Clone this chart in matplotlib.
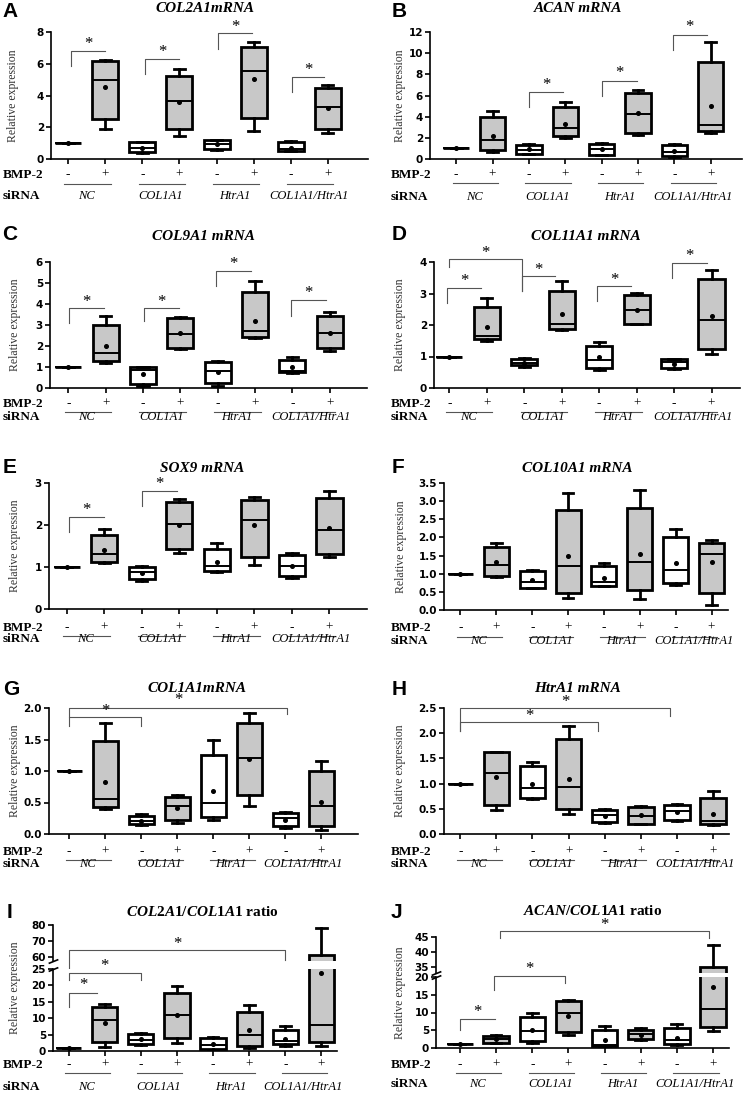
import numpy as np
import matplotlib
matplotlib.use('Agg')
import matplotlib.pyplot as plt
import matplotlib.transforms as mtransforms

W, H = 746, 1093

plt.rcParams['mathtext.fontset'] = 'custom'
plt.rcParams['mathtext.it'] = 'Liberation Serif:italic:bold'
plt.rcParams['mathtext.rm'] = 'Liberation Serif:bold'

groups = ['NC', 'COL1A1', 'HtrA1', 'COL1A1/HtrA1']
bmp = ['-', '+'] * 4
positions = np.arange(8)

# box stats: lower whisker, q1, median, q3, upper whisker, mean
col2a1 = dict(lo=[1, 1.9, 0.4, 1.47, 0.55, 1.79, 0.48, 1.64],
              q1=[1, 2.5, 0.42, 1.9, 0.65, 2.58, 0.52, 1.9],
              med=[1, 5.0, 0.69, 3.63, 0.95, 5.52, 0.6, 3.28],
              q3=[1, 6.15, 1.05, 5.25, 1.18, 7.04, 1.05, 4.47],
              hi=[1, 6.26, 1.1, 5.7, 1.2, 7.37, 1.15, 4.68],
              mean=[1, 4.54, 0.72, 3.6, 0.94, 5.04, 0.7, 3.2])
acan = dict(lo=[1, 0.63, 0.45, 2.0, 0.35, 2.3, 0.2, 2.5],
            q1=[1, 0.82, 0.5, 2.14, 0.41, 2.46, 0.25, 2.6],
            med=[1, 1.76, 0.82, 2.93, 0.95, 4.25, 0.63, 3.18],
            q3=[1, 3.94, 1.35, 4.91, 1.45, 6.24, 1.35, 9.17],
            hi=[1, 4.57, 1.45, 5.42, 1.5, 6.49, 1.4, 11.02],
            mean=[1, 2.2, 0.98, 3.34, 0.94, 4.3, 0.72, 4.98])
col9a1 = dict(lo=[1, 1.2, 0.08, 1.86, 0.1, 2.38, 0.7, 1.78],
              q1=[1, 1.3, 0.2, 1.9, 0.24, 2.42, 0.74, 1.9],
              med=[1, 1.66, 0.88, 2.58, 0.82, 2.7, 0.8, 2.6],
              q3=[1, 2.98, 1.0, 3.32, 1.22, 4.58, 1.34, 3.44],
              hi=[1, 3.43, 1.0, 3.4, 1.3, 5.1, 1.5, 3.6],
              mean=[1, 1.98, 0.68, 2.6, 0.76, 3.2, 0.98, 2.64])
col11a1 = dict(lo=[1, 1.5, 0.68, 1.84, 0.57, 2.03, 0.6, 1.07],
               q1=[1, 1.56, 0.72, 1.86, 0.63, 2.03, 0.63, 1.23],
               med=[1, 1.66, 0.8, 2.03, 0.89, 2.47, 0.82, 2.16],
               q3=[1, 2.58, 0.92, 3.08, 1.32, 2.95, 0.92, 3.47],
               hi=[1, 2.87, 0.95, 3.39, 1.45, 3.02, 0.92, 3.76],
               mean=[1, 1.93, 0.8, 2.35, 0.97, 2.49, 0.77, 2.28])
sox9 = dict(lo=[1, 1.1, 0.66, 1.33, 0.88, 1.04, 0.74, 1.25],
            q1=[1, 1.13, 0.71, 1.44, 0.9, 1.25, 0.79, 1.31],
            med=[1, 1.31, 0.88, 2.03, 1.03, 2.13, 1.02, 1.87],
            q3=[1, 1.77, 1.0, 2.54, 1.44, 2.6, 1.28, 2.64],
            hi=[1, 1.91, 1.02, 2.62, 1.56, 2.67, 1.33, 2.82],
            mean=[1, 1.41, 0.86, 2.0, 1.13, 2.0, 1.03, 1.94])
col10a1 = dict(lo=[1, 0.9, 0.6, 0.32, 0.67, 0.3, 0.68, 0.14],
               q1=[1, 0.95, 0.62, 0.48, 0.67, 0.55, 0.74, 0.46],
               med=[1, 1.24, 0.78, 1.22, 0.78, 1.31, 1.1, 1.55],
               q3=[1, 1.73, 1.08, 2.76, 1.2, 2.81, 2.0, 1.84],
               hi=[1, 1.86, 1.1, 3.22, 1.29, 3.3, 2.23, 1.93],
               mean=[1, 1.31, 0.83, 1.49, 0.89, 1.55, 1.29, 1.31])
col1a1 = dict(lo=[1, 0.39, 0.15, 0.17, 0.23, 0.44, 0.09, 0.06],
              q1=[1, 0.43, 0.16, 0.22, 0.27, 0.62, 0.12, 0.12],
              med=[1, 0.56, 0.21, 0.44, 0.5, 1.21, 0.26, 0.44],
              q3=[1, 1.47, 0.29, 0.59, 1.25, 1.76, 0.34, 1.0],
              hi=[1, 1.76, 0.32, 0.62, 1.49, 1.92, 0.35, 1.16],
              mean=[1, 0.82, 0.21, 0.42, 0.68, 1.19, 0.23, 0.51])
htra1 = dict(lo=[1, 0.47, 0.7, 0.4, 0.22, 0.19, 0.25, 0.18],
             q1=[1, 0.57, 0.71, 0.49, 0.24, 0.2, 0.28, 0.2],
             med=[1, 1.22, 0.92, 0.94, 0.37, 0.35, 0.46, 0.25],
             q3=[1, 1.62, 1.35, 1.88, 0.47, 0.53, 0.57, 0.72],
             hi=[1, 1.63, 1.43, 2.14, 0.5, 0.56, 0.59, 0.85],
             mean=[1, 1.13, 0.99, 1.1, 0.36, 0.37, 0.43, 0.39])
col2_ratio = dict(lo=[1, 1.2, 1.9, 2.3, 0.4, 0.9, 1.6, 1.5],
                  q1=[1, 2.8, 2.0, 4.1, 0.5, 1.5, 2.0, 2.8],
                  med=[1, 9.4, 3.5, 10.9, 1.8, 4.8, 3.0, 7.9],
                  q3=[1, 13.5, 5.3, 17.6, 4.1, 12.0, 6.4, 61.0],
                  hi=[1, 14.3, 5.6, 19.9, 4.2, 14.0, 7.7, 78.0],
                  mean=[1, 8.6, 3.6, 11.0, 2.2, 6.3, 3.8, 23.8])
acan_ratio = dict(lo=[1, 1.4, 1.5, 3.8, 0.55, 2.2, 0.8, 4.7],
                  q1=[1, 1.5, 1.9, 4.5, 0.6, 2.4, 1.0, 6.0],
                  med=[1, 2.65, 4.7, 9.8, 0.75, 3.9, 2.2, 11.0],
                  q3=[1, 3.4, 8.8, 13.1, 5.2, 5.2, 5.7, 35.0],
                  hi=[1, 3.6, 9.95, 13.4, 6.25, 5.5, 6.7, 42.5],
                  mean=[1, 2.4, 5.0, 9.1, 2.2, 3.8, 2.9, 17.2])

# significance brackets: x0, x1, top, left leg bottom, right leg bottom (None = no leg), star y
br_a = [(0.08, 1.0, 6.83, 5.84, None, 7.25), (2.06, 3.0, 6.32, 5.38, None, 6.74),
        (4.05, 4.96, 7.94, 6.93, None, 8.3), (6.04, 6.9, 5.15, 4.2, None, 5.63)]
br_b = [(2.0, 2.94, 6.33, 4.91, None, 7.0), (4.02, 4.96, 7.4, 6.0, None, 8.1),
        (5.95, 6.9, 11.75, 10.33, None, 12.5)]
br_c = [(0.02, 0.96, 3.79, 3.11, None, 4.1), (2.02, 2.97, 3.79, 3.2, None, 4.1),
        (3.96, 4.88, 5.56, 4.85, None, 5.9), (5.97, 6.89, 4.18, 3.43, None, 4.5)]
br_d = [(-0.07, 0.85, 3.16, 2.7, None, 3.4), (0.0, 1.93, 4.08, 3.84, 3.08, 4.3),
        (1.93, 2.83, 3.55, 3.08, None, 3.76), (3.95, 4.84, 3.23, 2.76, None, 3.44),
        (5.95, 6.87, 3.98, 3.5, None, 4.18)]
br_e = [(0.06, 1.0, 2.18, 1.83, None, 2.35), (2.02, 2.93, 2.82, 2.46, None, 2.98)]
br_g = [(0.0, 2.0, 1.85, 1.72, 1.72, 1.95), (0.0, 6.04, 2.0, 1.85, 1.91, 2.12)]
br_h = [(0.0, 5.8, 2.5, 2.05, 2.35, 2.62), (0.0, 3.8, 2.22, 2.05, 2.05, 2.35)]
br_i_low = [(0.0, 0.8, 17.8, 13.5, None, 20.2), (0.0, 2.0, 23.8, 21.7, 21.7, 26.0)]
br_i_top = [(0.0, 6.0, 64.6, 52.0, 57.9, 68.4)]
br_j_low = [(0.0, 0.98, 8.06, 5.0, None, 10.2), (0.95, 2.92, 20.2, 16.4, 18.3, 22.3)]
br_j_top = [(1.1, 6.9, 47.0, 44.8, 44.8, 48.9)]

fig = plt.figure(figsize=(W / 100, H / 100), dpi=100)
serif = 'Liberation Serif'


def rect(l, t, r, b):
    return [l / W, 1 - b / H, (r - l) / W, (b - t) / H]


def style(ax, xlim, ylim, yticks, fmt, bottom=True):
    ax.set_xlim(*xlim)
    ax.set_ylim(*ylim)
    ax.set_yticks(yticks)
    ax.set_yticklabels([fmt % v for v in yticks], fontweight='bold', fontsize=7.5,
                       family='DejaVu Sans')
    ax.spines['top'].set_visible(False)
    ax.spines['right'].set_visible(False)
    ax.spines['left'].set_linewidth(1.2)
    ax.spines['bottom'].set_linewidth(1.2)
    ax.tick_params(direction='out', length=3.5, width=1.2, pad=1.5)
    if bottom:
        ax.set_xticks(positions)
        ax.set_xticklabels([])
    else:
        ax.spines['bottom'].set_visible(False)
        ax.set_xticks([])


def boxes(ax, st):
    stats = [dict(whislo=st['lo'][i], q1=st['q1'][i], med=st['med'][i], q3=st['q3'][i],
                  whishi=st['hi'][i], mean=st['mean'][i], fliers=[]) for i in range(8)]
    bp = ax.bxp(stats, positions=positions, widths=0.7, capwidths=0.3, showmeans=True,
                showfliers=False, patch_artist=True,
                boxprops=dict(linewidth=2.0, edgecolor='black'),
                medianprops=dict(color='black', linewidth=1.4),
                whiskerprops=dict(color='black', linewidth=2.0),
                capprops=dict(color='black', linewidth=2.0),
                meanprops=dict(marker='o', markerfacecolor='black', markeredgecolor='black',
                               markersize=2.6))
    for i, p in enumerate(bp['boxes']):
        p.set_facecolor('#c8c8c8' if i % 2 else 'white')


def brackets(ax, items):
    for x0, x1, top, lb, rb, sy in items:
        xs, ys = [x0, x0, x1], [lb, top, top]
        if rb is not None:
            xs.append(x1)
            ys.append(rb)
        ax.plot(xs, ys, color='#555555', lw=0.8, clip_on=False)
        ax.text((x0 + x1) / 2, sy, '*', ha='center', va='center', fontsize=12,
                family=serif, clip_on=False)


def under_labels(ax, left_px, lab_x, offs):
    d1, d2, d3 = offs
    tr = ax.get_xaxis_transform()

    def off(dy, base=tr, dx=0):
        return mtransforms.offset_copy(base, fig=fig, x=dx, y=-dy, units='dots')

    for i in range(8):
        ax.text(i, 0, bmp[i], transform=off(d1), ha='center', va='center', fontsize=9.5,
                family=serif)
    for g in range(4):
        ax.plot([2 * g - 0.1, 2 * g + 1.15], [0, 0], transform=off(d2), color='#555555',
                lw=0.8, clip_on=False)
        ax.text(2 * g + 0.5, 0, groups[g], transform=off(d3), ha='center', va='center',
                fontsize=9, family=serif, style='italic')
    ax.text(0, 0, 'BMP-2', transform=off(d1, ax.transAxes, lab_x - left_px), ha='left',
            va='center', fontsize=9.5, family=serif, fontweight='bold')
    ax.text(0, 0, 'siRNA', transform=off(d3, ax.transAxes, lab_x - left_px), ha='left',
            va='center', fontsize=9.5, family=serif, fontweight='bold')


def decorate(letter, lpos, title, tpos, ylab_x, ylab_y):
    fig.text(lpos[0] / W, 1 - lpos[1] / H, letter, ha='left', va='top', fontsize=15,
             fontweight='bold', family='Liberation Sans')
    fig.text(tpos[0] / W, 1 - tpos[1] / H, title, ha='center', va='center', fontsize=11,
             fontweight='bold', family=serif, style='italic')
    fig.text(ylab_x / W, 1 - ylab_y / H, 'Relative expression', rotation=90, ha='center',
             va='center', fontsize=8.5, family=serif, color='#333333')


# regular panels: letter, title, stats, brackets, px rect, xlim, ylim, yticks, fmt, label offsets,
# letter pos, title pos, ylabel x, label column x
panels = [
    ('A', 'COL2A1mRNA', col2a1, br_a, (51, 32, 368, 159), (-0.46, 8.08), (0, 8), [0, 2, 4, 6, 8],
     '%d', (16, 25, 37), (2, 2), (205, 8), 13, 3),
    ('B', 'ACAN mRNA', acan, br_b, (430, 32, 742, 159), (-0.72, 7.86), (0, 12),
     [0, 2, 4, 6, 8, 10, 12], '%d', (16, 24, 38), (392, 2), (578, 8), 400, 391),
    ('C', 'COL9A1 mRNA', col9a1, br_c, (50, 262, 367, 388), (-0.49, 8.0), (0, 6),
     [0, 1, 2, 3, 4, 5, 6], '%d', (16, 24, 29), (2, 225), (203, 237), 15, 3),
    ('D', 'COL11A1 mRNA', col11a1, br_d, (434, 262, 740, 388), (-0.41, 7.76), (0, 4),
     [0, 1, 2, 3, 4], '%d', (16, 24, 29), (392, 225), (586, 237), 400, 391),
    ('E', 'SOX9 mRNA', sox9, br_e, (49, 483, 367, 609), (-0.47, 8.0), (0, 3), [0, 1, 2, 3],
     '%d', (19, 27, 30), (3, 458), (202, 468), 15, 3),
    ('F', 'COL10A1 mRNA', col10a1, [], (444, 483, 728, 610), (-0.46, 7.46), (0, 3.5),
     [0, 0.5, 1, 1.5, 2, 2.5, 3, 3.5], '%.1f', (18, 27, 31), (392, 458), (577, 468), 401, 391),
    ('G', 'COL1A1mRNA', col1a1, br_g, (49, 708, 358, 834), (-0.56, 8.02), (0, 2),
     [0, 0.5, 1, 1.5, 2], '%.1f', (18, 26, 30), (3, 680), (197, 688), 15, 3),
    ('H', 'HtrA1 mRNA', htra1, br_h, (444, 708, 729, 834), (-0.45, 7.44), (0, 2.5),
     [0, 0.5, 1, 1.5, 2, 2.5], '%.1f', (18, 26, 30), (392, 680), (577, 688), 400, 391),
]

for (letter, title, st, brs, r, xlim, ylim, yt, fmt, offs, lpos, tpos, ylx, labx) in panels:
    ax = fig.add_axes(rect(*r))
    boxes(ax, st)
    style(ax, xlim, ylim, yt, fmt)
    brackets(ax, brs)
    under_labels(ax, r[0], labx, offs)
    decorate(letter, lpos, title, tpos, ylx, (r[1] + r[3]) / 2)


# broken-axis panels
def broken(letter, title, st, top_r, low_r, xlim, top_ylim, top_yt, low_ylim, low_yt,
           br_top, br_low, offs, lpos, tpos, ylx, labx):
    axt = fig.add_axes(rect(*top_r))
    axl = fig.add_axes(rect(*low_r))
    for a in (axt, axl):
        boxes(a, st)
    style(axt, xlim, top_ylim, top_yt, '%d', bottom=False)
    style(axl, xlim, low_ylim, low_yt, '%d')
    brackets(axt, br_top)
    brackets(axl, br_low)
    kw = dict(marker=[(-1, -0.4), (1, 0.4)], markersize=7, linestyle='none', color='k',
              mec='k', mew=1.2, clip_on=False)
    axt.plot([0], [0], transform=axt.transAxes, **kw)
    axl.plot([0], [1], transform=axl.transAxes, **kw)
    under_labels(axl, low_r[0], labx, offs)
    fig.text(lpos[0] / W, 1 - lpos[1] / H, letter, ha='left', va='top', fontsize=15,
             fontweight='bold', family='Liberation Sans')
    fig.text(tpos[0] / W, 1 - tpos[1] / H, title, ha='center', va='center', fontsize=11,
             family=serif, fontweight='bold')
    fig.text(ylx / W, 1 - ((top_r[1] + low_r[3]) / 2) / H, 'Relative expression', rotation=90,
             ha='center', va='center', fontsize=8.5, family=serif, color='#333333')


broken('I', r'$\mathit{COL2A1/COL1A1}$ ratio', col2_ratio, (53, 925, 337, 961),
       (53, 969, 337, 1051), (-0.43, 7.43), (57.5, 80), [60, 70, 80], (0, 25),
       [0, 5, 10, 15, 20, 25], br_i_top, br_i_low, (14, 22, 36), (7, 903), (202, 912), 15, 3)
broken('J', r'$\mathit{ACAN/COL1A1}$ ratio', acan_ratio, (436, 937, 729, 973),
       (436, 977, 729, 1048), (-0.66, 7.44), (33, 45), [35, 40, 45], (0, 20),
       [0, 5, 10, 15, 20], br_j_top, br_j_low, (17, 25, 36), (391, 903), (593, 911), 400, 391)

fig.savefig('out.png', dpi=100)
